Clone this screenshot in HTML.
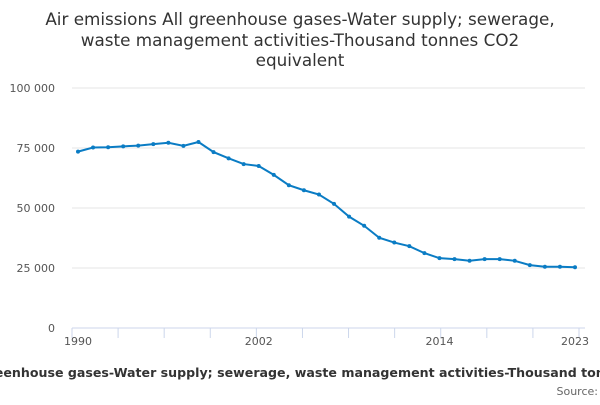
<!DOCTYPE html>
<html><head><meta charset="utf-8"><style>
body{margin:0;background:#fff;width:600px;height:400px;overflow:hidden;font-family:"Liberation Sans","DejaVu Sans",sans-serif}
</style></head><body>
<svg width="600" height="400" xmlns="http://www.w3.org/2000/svg">
<g id="title" font-family="DejaVu Sans, sans-serif" font-size="16.8" fill="#333" text-anchor="middle">
<text x="300" y="25">Air emissions All greenhouse gases-Water supply; sewerage,</text>
<text x="300" y="46">waste management activities-Thousand tonnes CO2</text>
<text x="300" y="66">equivalent</text>
</g>
<g id="grid"></g>
<g id="yt" font-family="DejaVu Sans, sans-serif" font-size="11" fill="#555" text-anchor="end"></g>
<line x1="72" y1="328" x2="585" y2="328" stroke="#ccd6eb" stroke-width="1"/>
<g id="xt" font-family="DejaVu Sans, sans-serif" font-size="11" fill="#555" text-anchor="middle"></g>
<path id="line" fill="none" stroke="#0a7cc4" stroke-width="2"/>
<g id="pts" fill="#0a7cc4"></g>
<text x="300" y="377" font-family="DejaVu Sans, sans-serif" font-size="12.6" font-weight="bold" fill="#333" text-anchor="middle">Air emissions All greenhouse gases-Water supply; sewerage, waste management activities-Thousand tonnes CO2 equivalent</text>
<text x="598" y="395" font-family="DejaVu Sans, sans-serif" font-size="11" fill="#666" text-anchor="end">Source:</text>
</svg>
<script>
const years=[1990,1991,1992,1993,1994,1995,1996,1997,1998,1999,2000,2001,2002,2003,2004,2005,2006,2007,2008,2009,2010,2011,2012,2013,2014,2015,2016,2017,2018,2019,2020,2021,2022,2023];
const values=[73500,75200,75300,75700,76000,76600,77200,75900,77500,73300,70700,68300,67500,63800,59500,57400,55600,51700,46400,42600,37600,35600,34100,31200,29100,28700,28000,28700,28700,28000,26200,25500,25500,25300];
const yTicks=[0,25000,50000,75000,100000];
const yTickLabels=["0","25 000","50 000","75 000","100 000"];
const xLabels=[1990,2002,2014,2023];
const NS="http://www.w3.org/2000/svg";
const x=y=>78+(y-1990)*(575-78)/(2023-1990);
const yS=v=>328-v*240/100000;
function mk(t,a,p){const e=document.createElementNS(NS,t);for(const k in a)e.setAttribute(k,a[k]);p.appendChild(e);return e;}
const grid=document.getElementById('grid'),yt=document.getElementById('yt'),xt=document.getElementById('xt');
yTicks.forEach((v,i)=>{
 if(v>0){const l=mk('line',{x1:72,x2:585,y1:yS(v),y2:yS(v),stroke:'#e6e6e6'},grid);
 
 }
 const t=mk('text',{x:55,y:yS(v)+4},yt);t.textContent=yTickLabels[i];
 
 
});
for(let k=0;k<12;k++){const tx=72+k*(579-72)/11;
 const l=mk('line',{x1:tx,x2:tx,y1:328,y2:338,stroke:'#ccd6eb'},xt);
 
 }
xLabels.forEach(yr=>{const t=mk('text',{x:x(yr),y:345},xt);t.textContent=yr;
 
 });
document.getElementById('line').setAttribute('d',years.map((yr,i)=>(i?'L':'M')+x(yr)+','+yS(values[i])).join(''));
const pts=document.getElementById('pts');
years.forEach((yr,i)=>{const c=mk('circle',{cx:x(yr),cy:yS(values[i]),r:2},pts);
 
 });
</script>
</body></html>
